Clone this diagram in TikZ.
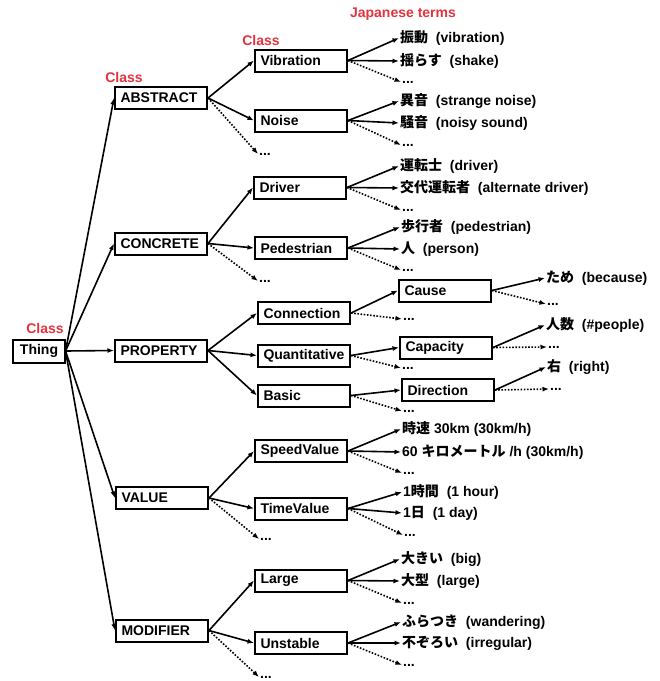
\documentclass[tikz,border=0pt]{standalone}
\usepackage{fontspec}
\setmainfont{Liberation Sans}
\newfontfamily\jp{Noto Sans CJK JP}
\usetikzlibrary{arrows.meta}
\definecolor{clsred}{RGB}{226,52,62}
\newcommand\dgfont{\fontsize{14}{16}\selectfont\bfseries}
\begin{document}
\begin{tikzpicture}[x=1pt,y=-1pt,
  box/.style={draw, line width=2pt, font=\dgfont, inner xsep=5.5pt, inner ysep=0pt,
    minimum height=22pt, text width=81pt, align=left, anchor=west},
  thingbox/.style={draw, line width=2pt, font=\dgfont, inner xsep=6.5pt, inner ysep=0pt,
    minimum height=23pt},
  term/.style={anchor=west, inner sep=1pt, font=\dgfont},
  dots/.style={anchor=west, inner sep=1pt, font=\dgfont},
  cls/.style={text=clsred, font=\dgfont, inner sep=0pt},
  arr/.style={-{Latex[length=6.5pt,width=5pt]}, line width=1.6pt},
  darr/.style={arr, dash pattern=on 1.6pt off 1.6pt}]
\useasboundingbox (0,0) rectangle (660,681);

% red labels
\node[cls] (c0) at (45,328) {Class};
\node[cls] (c1) at (124,77) {Class};
\node[cls] (c2) at (261,40) {Class};
\node[cls] (c3) at (403,14) {Japanese terms};

% root
\node[thingbox] (thing) at (39,351) {Thing};

% level 1
\node[box] (abs)  at (114,98)    {ABSTRACT};
\node[box] (con)  at (114,243.5) {CONCRETE};
\node[box] (prop) at (114,350.5) {PROPERTY};
\node[box] (val)  at (115,498)   {VALUE};
\node[box] (mod)  at (115,630.5) {MODIFIER};

% level 2
\node[box] (vib)  at (254,60.5)  {Vibration};
\node[box] (noi)  at (254,120.5) {Noise};
\node[dots] (dabs) at (258,154) {...};
\node[box] (drv)  at (253,187.5) {Driver};
\node[box] (ped)  at (254,248)   {Pedestrian};
\node[dots] (dcon) at (258,281) {...};
\node[box] (conn) at (257,313)   {Connection};
\node[box] (quan) at (257,355.5) {Quantitative};
\node[box] (bas)  at (257,395.5) {Basic};
\node[box] (spd)  at (254,451)   {SpeedValue};
\node[box] (tim)  at (254,508.5) {TimeValue};
\node[dots] (dval) at (259,539) {...};
\node[box] (lrg)  at (254,580.5) {Large};
\node[box] (uns)  at (254,643)   {Unstable};
\node[dots] (dmod) at (259,677) {...};

% level 3 boxes
\node[box] (cau) at (398,290.5) {Cause};
\node[box] (cap) at (399,347.5) {Capacity};
\node[box] (dir) at (401,390)   {Direction};
\node[dots] (dconn) at (402,319) {...};
\node[dots] (dquan) at (401,368) {...};
\node[dots] (dbas)  at (402,411) {...};

% terms
\node[term] (t1a) at (399,38)  {{\jp 振動}\ \ (vibration)};
\node[term] (t1b) at (399,61)  {{\jp 揺らす}\ \ (shake)};
\node[dots] (t1c) at (401,82)  {...};
\node[term] (t2a) at (399,101) {{\jp 異音}\ \ (strange noise)};
\node[term] (t2b) at (399,123) {{\jp 騒音}\ \ (noisy sound)};
\node[dots] (t2c) at (401,145) {...};
\node[term] (t3a) at (399,166) {{\jp 運転士}\ \ (driver)};
\node[term] (t3b) at (399,188) {{\jp 交代運転者}\ \ (alternate driver)};
\node[dots] (t3c) at (401,210) {...};
\node[term] (t4a) at (400,227) {{\jp 歩行者}\ \ (pedestrian)};
\node[term] (t4b) at (400,249) {{\jp 人}\ \ (person)};
\node[dots] (t4c) at (401,270) {...};
\node[term] (t5a) at (401,429) {{\jp 時速} 30km (30km/h)};
\node[term] (t5b) at (401,452) {60 {\jp キロメートル} /h (30km/h)};
\node[dots] (t5c) at (402,473) {...};
\node[term] (t6a) at (402,492) {1{\jp 時間}\ \ (1 hour)};
\node[term] (t6b) at (402,513) {1{\jp 日}\ \ (1 day)};
\node[dots] (t6c) at (403,535) {...};
\node[term] (t7a) at (400,559) {{\jp 大きい}\ \ (big)};
\node[term] (t7b) at (400,581) {{\jp 大型}\ \ (large)};
\node[dots] (t7c) at (402,603) {...};
\node[term] (t8a) at (401,622) {{\jp ふらつき}\ \ (wandering)};
\node[term] (t8b) at (401,643) {{\jp 不ぞろい}\ \ (irregular)};
\node[dots] (t8c) at (402,665) {...};
% level 4 terms
\node[term] (t9a)  at (545,278) {{\jp ため}\ \ (because)};
\node[dots] (t9c)  at (546,304) {...};
\node[term] (t10a) at (545,325) {{\jp 人数}\ \ (\#people)};
\node[dots] (t10c) at (547,347) {...};
\node[term] (t11a) at (546,367) {{\jp 右}\ \ (right)};
\node[dots] (t11c) at (549,389) {...};

% solid connectors
\foreach \a/\b in {thing/abs, thing/con, thing/prop, thing/val, thing/mod,
  abs/vib, abs/noi, con/drv, con/ped, prop/conn, prop/quan, prop/bas,
  val/spd, val/tim, mod/lrg, mod/uns,
  conn/cau, quan/cap, bas/dir,
  vib/t1a, vib/t1b, noi/t2a, noi/t2b, drv/t3a, drv/t3b, ped/t4a, ped/t4b,
  spd/t5a, spd/t5b, tim/t6a, tim/t6b, lrg/t7a, lrg/t7b, uns/t8a, uns/t8b,
  cau/t9a, cap/t10a, dir/t11a}
  \draw[arr] (\a.east) -- (\b.west);

% dotted connectors
\foreach \a/\b in {abs/dabs, con/dcon, val/dval, mod/dmod,
  conn/dconn, quan/dquan, bas/dbas,
  vib/t1c, noi/t2c, drv/t3c, ped/t4c, spd/t5c, tim/t6c, lrg/t7c, uns/t8c,
  cau/t9c, cap/t10c, dir/t11c}
  \draw[darr] (\a.east) -- (\b.west);
\end{tikzpicture}
\end{document}
